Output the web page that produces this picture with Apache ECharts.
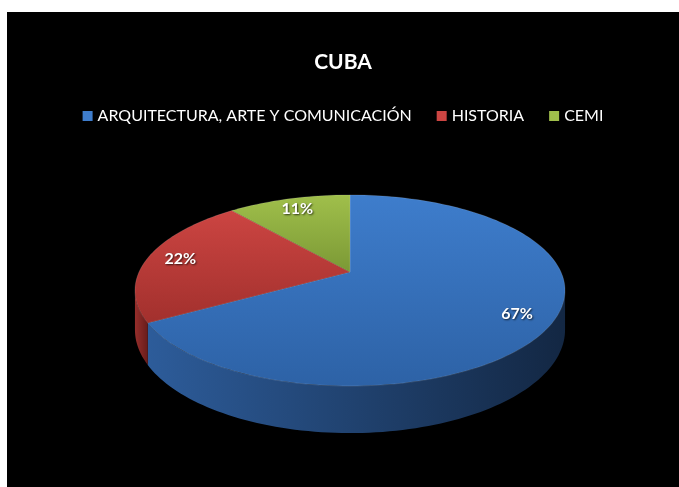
<!DOCTYPE html>
<html>
<head>
<meta charset="utf-8">
<script src="https://cdn.jsdelivr.net/npm/echarts@6/dist/echarts.min.js"></script>
<style>
  html, body { margin: 0; padding: 0; background: #fff; }
  #chart { position: absolute; left: 7px; top: 12px; width: 672px; height: 475px; background: #000; }
</style>
</head>
<body>
<div id="chart"></div>
<script>
// slices, clockwise from 12 o'clock
const categories = ['ARQUITECTURA, ARTE Y COMUNICACIÓN', 'HISTORIA', 'CEMI'];
const values = [6, 2, 1];
const topColors = [['#3e7dcc', '#2d62a6'], ['#cc4542', '#a2302d'], ['#a0bf4b', '#7b9935']];
const sideColors = [['#2d5c9a', '#132743'], ['#962e2b', '#681c1b'], ['#7f9c38', '#5a7026']];

// fake 3d pie geometry (chart pixels)
const CX = 343, CY = 260, RX = 211, RY = 92, K = 0.193, DEPTH = 38;
const LABEL_R = 0.84;
const FONT = 'Lato, "Open Sans", sans-serif';

const total = values.reduce((a, b) => a + b, 0);
const starts = [];
let acc = 0;
values.forEach(v => { starts.push(acc / total * 360); acc += v; });
const spans = values.map(v => v / total * 360);

// silhouette of the cylinder wall (deg)
const SIL0 = Math.acos(-K) * 180 / Math.PI;
const SIL1 = 360 - SIL0;

function proj(deg, r, dz) {
  const a = deg * Math.PI / 180;
  const u = r * Math.sin(a);
  const w = -r * Math.cos(a);
  const f = 1 / (1 - K * w);
  return [CX + RX * u * f, CY + RY * w * f + dz * f];
}

function arc(a0, a1, dz) {
  const pts = [];
  const n = Math.max(2, Math.ceil((a1 - a0) / 1.5));
  for (let i = 0; i <= n; i++) {
    pts.push(proj(a0 + (a1 - a0) * i / n, 1, dz));
  }
  return pts;
}

function renderSlice(idx) {
  return function (params, api) {
    const a0 = starts[idx], a1 = starts[idx] + spans[idx];
    const children = [];

    const topPts = [proj(0, 0, 0)].concat(arc(a0, a1, 0));
    children.push({
      type: 'polygon',
      z2: 10,
      shape: { points: topPts },
      style: {
        fill: new echarts.graphic.LinearGradient(0, 0, 0, 1, [
          { offset: 0, color: topColors[idx][0] },
          { offset: 1, color: topColors[idx][1] }
        ]),
        stroke: 'rgba(255,255,255,0.18)',
        lineWidth: 0.7
      }
    });

    const s = Math.max(a0, SIL0), e = Math.min(a1, SIL1);
    if (e > s) {
      const wallPts = arc(s, e, 0).concat(arc(s, e, DEPTH).reverse());
      children.push({
        type: 'polygon',
        z2: 1,
        shape: { points: wallPts },
        style: {
          fill: new echarts.graphic.LinearGradient(0, 0, 1, 0, [
            { offset: 0, color: sideColors[idx][0] },
            { offset: 1, color: sideColors[idx][1] }
          ])
        }
      });
    }

    const p = proj((a0 + a1) / 2, LABEL_R, 0);
    children.push({
      type: 'text',
      z2: 20,
      x: p[0],
      y: p[1],
      style: {
        text: Math.round(values[idx] / total * 100) + '%',
        fill: '#fff',
        font: 'bold 16px ' + FONT,
        align: 'center',
        verticalAlign: 'middle',
        textShadowColor: 'rgba(0,0,0,0.7)',
        textShadowBlur: 2,
        textShadowOffsetX: 1,
        textShadowOffsetY: 1
      }
    });

    return { type: 'group', children: children };
  };
}

const chart = echarts.init(document.getElementById('chart'));
const option = {
  backgroundColor: '#000',
  animation: false,
  title: {
    text: 'CUBA',
    left: 'center',
    top: 35,
    textStyle: { color: '#fff', fontSize: 21, fontWeight: 'bold', fontFamily: FONT }
  },
  legend: {
    data: categories,
    left: 'center',
    top: 91,
    icon: 'rect',
    itemWidth: 10,
    itemHeight: 10,
    itemGap: 25,
    textStyle: { color: '#fff', fontSize: 16, fontFamily: FONT }
  },
  series: categories.map((name, i) => ({
    type: 'custom',
    name: name,
    coordinateSystem: 'none',
    itemStyle: { color: topColors[i][0] },
    data: [values[i]],
    renderItem: renderSlice(i)
  }))
};
chart.setOption(option);

window.addEventListener('resize', function () {
  chart.resize();
});
</script>
</body>
</html>
